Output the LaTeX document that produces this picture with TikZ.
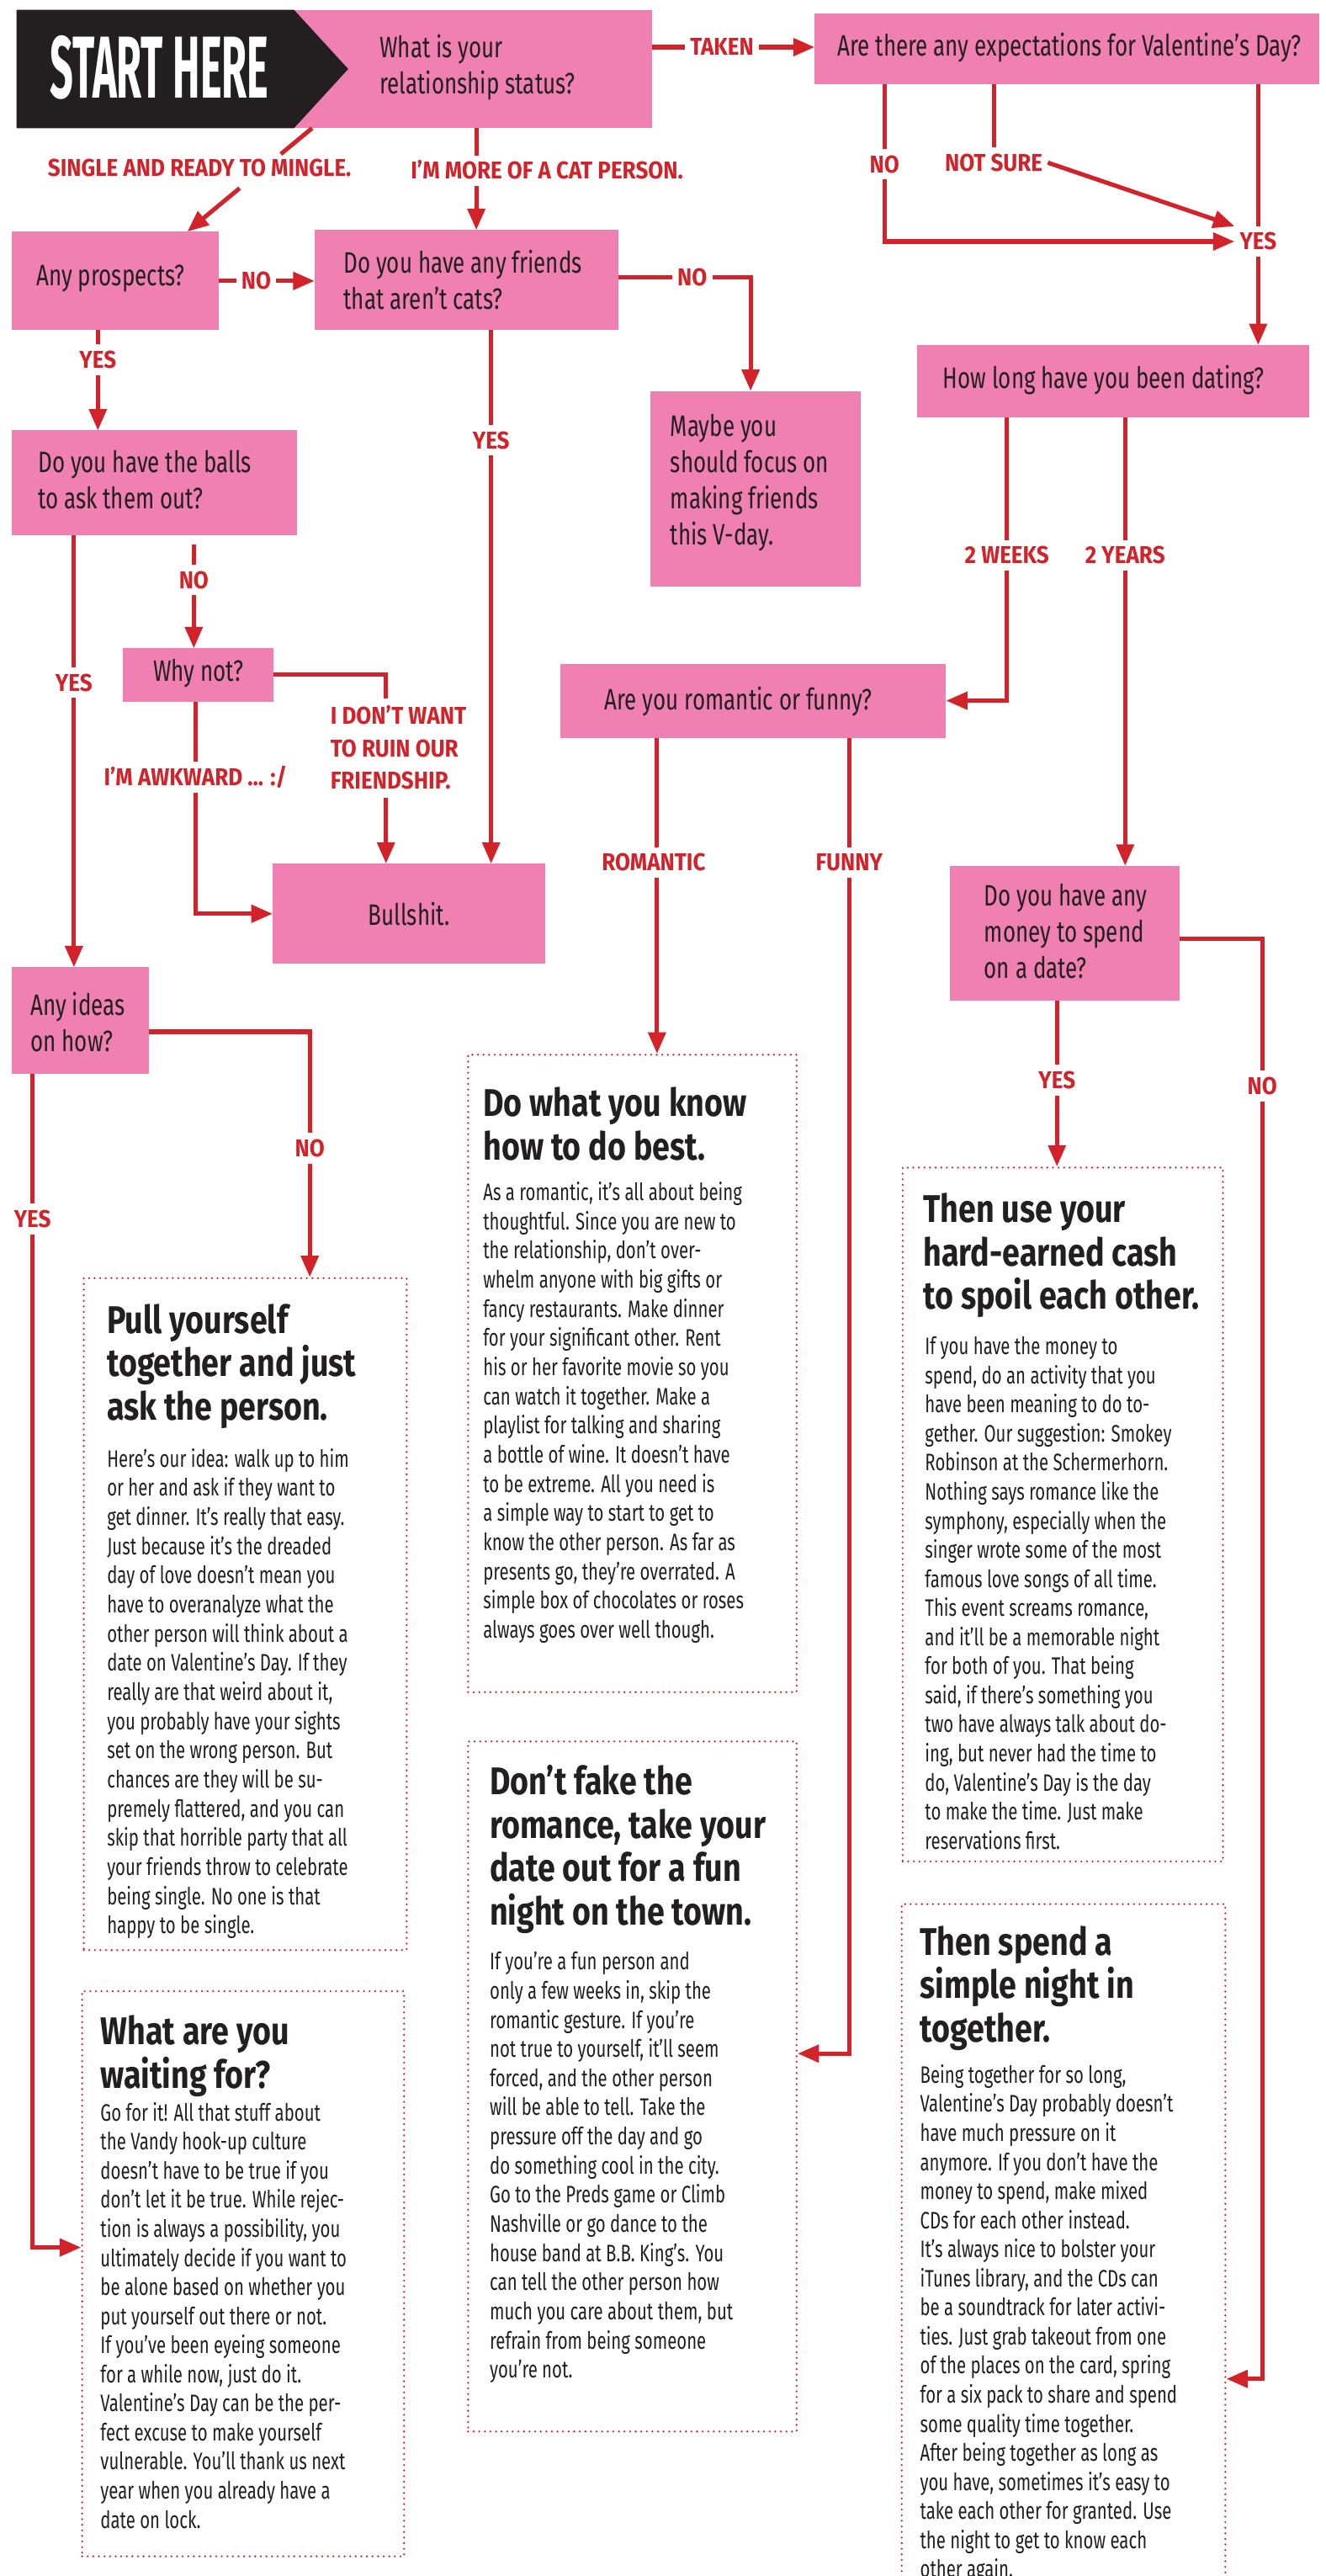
\documentclass[tikz,border=0pt]{standalone}
\usepackage{graphicx}
\usepackage{fontspec}
\setmainfont{Fira Sans}
\newfontfamily\qfont[FakeStretch=0.74]{Fira Sans}
\newfontfamily\lfont[FakeStretch=0.9]{Fira Sans}
\newfontfamily\hfont[FakeStretch=0.82]{Fira Sans}
\newfontfamily\bfont[FakeStretch=0.72]{Fira Sans}
\usetikzlibrary{arrows.meta,calc}
\definecolor{pinkc}{HTML}{F080B1}
\definecolor{redc}{HTML}{D2232A}
\definecolor{inkc}{HTML}{231F20}
\begin{document}
\begin{tikzpicture}[x=1pt,y=-1pt,
  qbox/.style={fill=pinkc, inner sep=0pt, outer sep=0pt},
  qtext/.style={inner sep=0pt, anchor=north west, align=left, text=inkc, font=\qfont\fontsize{18}{22}\selectfont},
  lbl/.style={text=redc, inner xsep=3pt, inner ysep=4pt, text height=10.2pt, text depth=0pt, font=\lfont\bfseries\fontsize{14.8}{16}\selectfont},
  lblm/.style={text=redc, inner sep=0pt, anchor=north west, align=left, font=\lfont\bfseries\fontsize{14.8}{19.7}\selectfont},
  con/.style={draw=redc, line width=2.6pt},
  arr/.style={con, -{Triangle[length=13pt,width=10.5pt]}},
  dbox/.style={draw=redc, line width=1.3pt, dash pattern=on 0pt off 3.4pt, line cap=round, inner sep=0pt},
  htext/.style={inner sep=0pt, anchor=north west, align=left, text=inkc, font=\hfont\bfseries\fontsize{23.5}{26.4}\selectfont},
  btext/.style={inner sep=0pt, anchor=north west, align=left, text=inkc, font=\bfont\fontsize{14.5}{#1}\selectfont},
]
\useasboundingbox (0,0) rectangle (807,1568);
\fill[white] (0,0) rectangle (807,1568);

% ---------- top row ----------
\node[qbox, minimum width=218pt, minimum height=72pt] (q1) at (288,42) {};
\fill[inkc] (10,6) -- (179,6) -- (212,42) -- (179,78) -- (10,78) -- cycle;
\node[text=white, inner sep=0pt] (start) at (97,41) {\resizebox{133pt}{38pt}{\lfont\bfseries START HERE}};
\node[qtext] (q1t) at (231,21) {What is your\\relationship status?};

\node[qbox, minimum width=307pt, minimum height=43pt] (q2) at (649.5,29.5) {};
\node[qtext, anchor=center] (q2t) at (651,29) {Are there any expectations for Valentine’s Day?};

\node[lbl] (taken) at (439.5,28.7) {TAKEN};
\draw[con] (taken.west -| q1.east) -- (taken.west);
\draw[arr] (taken.east) -- (taken.east -| q2.west);

\node[lbl] (no2) at (538.5,100) {NO};
\node[lbl] (notsure) at (605,99) {NOT SURE};
\node[lbl] (yes2) at (766,147) {YES};
\node[qbox, minimum width=238.5pt, minimum height=44pt] (howlong) at (677.75,232) {};
\node[qtext] (howlongt) at (574,222) {How long have you been dating?};
\draw[con] (no2.north |- q2.south) -- (no2.north);
\draw[arr] (no2.south) |- (yes2.west);
\draw[con] (notsure.north |- q2.south) -- (notsure.north);
\draw[arr] (notsure.east) -- (yes2.north west);
\draw[con] (yes2.north |- q2.south) -- (yes2.north);
\draw[arr] (yes2.south) -- (yes2.south |- howlong.north);

% ---------- single / cat ----------
\node[lbl] (single) at (121.5,102) {SINGLE AND READY TO MINGLE.};
\node[qbox, minimum width=126pt, minimum height=60pt] (q3) at (70,171) {};
\node[qtext] (q3t) at (22,161) {Any prospects?};
\coordinate (s1) at (190,78);
\coordinate (s2) at (114,141);
\draw[con] (s1) -- ($(s1)!0.25!(s2)$);
\draw[arr] ($(s1)!0.58!(s2)$) -- (s2);

\node[lbl] (cat) at (333,104) {I’M MORE OF A CAT PERSON.};
\node[qbox, minimum width=185pt, minimum height=61pt] (q4) at (284,170.5) {};
\node[qtext] (q4t) at (209,152) {Do you have any friends\\that aren’t cats?};
\coordinate (catx) at (290,0);
\draw[con] (q1.south -| catx) -- (cat.north -| catx);
\draw[arr] (cat.south -| catx) -- (q4.north -| catx);

\node[lbl] (no1) at (156,171) {NO};
\draw[con] (q3.east |- no1.west) -- (no1.west);
\draw[arr] (no1.east) -- (no1.east -| q4.west);

\node[lbl] (no3) at (421.5,169) {NO};
\node[qbox, minimum width=128pt, minimum height=119pt] (maybe) at (460,297.5) {};
\node[qtext] (maybet) at (408,252) {Maybe you\\should focus on\\making friends\\this V-day.};
\coordinate (mx) at (457,0);
\draw[con] (q4.east |- no3.west) -- (no3.west);
\draw[arr] (no3.east) -| (maybe.north -| mx);

% ---------- left branch ----------
\node[lbl] (yes1) at (59.6,219) {YES};
\node[qbox, minimum width=174pt, minimum height=64pt] (q5) at (94,294) {};
\node[qtext] (q5t) at (23,274) {Do you have the balls\\to ask them out?};
\draw[con] (yes1.north |- q3.south) -- (yes1.north);
\draw[arr] (yes1.south) -- (yes1.south |- q5.north);

\node[lbl] (yes3) at (299,268) {YES};
\node[qbox, minimum width=166pt, minimum height=61pt] (bull) at (249,556.2) {};
\node[qtext, anchor=center] (bullt) at (249,556.5) {Bullshit.};
\draw[con] (yes3.north |- q4.south) -- (yes3.north);
\draw[arr] (yes3.south) -- (yes3.south |- bull.north);

\node[lbl] (yes4) at (45,415.6) {YES};
\node[qbox, minimum width=83.5pt, minimum height=65pt] (ideas) at (48.75,621.25) {};
\node[qtext] (ideast) at (18.4,604) {Any ideas\\on how?};
\draw[con] (yes4.north |- q5.south) -- (yes4.north);
\draw[arr] (yes4.south) -- (yes4.south |- ideas.north);

\node[lbl] (no4) at (118,353) {NO};
\node[qbox, minimum width=91.4pt, minimum height=32.4pt] (whynot) at (120.7,410.8) {};
\node[qtext, anchor=center] (whynott) at (120.7,410) {Why not?};
\coordinate (n4top) at ($(no4.north |- q5.south)+(0,5.5)$);
\draw[con] (n4top) -- (no4.north);
\draw[arr] (no4.south) -- (no4.south |- whynot.north);

\node[lblm] (dontwant) at (201,429.4) {I DON’T WANT\\TO RUIN OUR\\FRIENDSHIP.};
\coordinate (dwx) at (235,0);
\draw[con] (whynot.east) -| ($(dontwant.north -| dwx)+(0,-4)$);
\draw[arr] ($(dontwant.south -| dwx)+(0,5)$) -- (bull.north -| dwx);

\node[lbl] (awk) at (119,473) {I’M AWKWARD ... :/};
\draw[con] (awk.north |- whynot.south) -- (awk.north);
\draw[arr] (awk.south) |- (bull.west);

% ---------- dating branch ----------
\node[lbl] (wk2) at (613,338) {2 WEEKS};
\node[lbl] (yr2) at (685,338) {2 YEARS};
\node[qbox, minimum width=235pt, minimum height=45pt] (romfun) at (458.5,426.5) {};
\node[qtext] (romfunt) at (368,418) {Are you romantic or funny?};
\node[qbox, minimum width=139.5pt, minimum height=82pt] (money) at (648.25,568) {};
\node[qtext] (moneyt) at (599,538) {Do you have any\\money to spend\\on a date?};
\draw[con] (wk2.north |- howlong.south) -- (wk2.north);
\draw[arr] (wk2.south) |- (romfun.east);
\draw[con] (yr2.north |- howlong.south) -- (yr2.north);
\draw[arr] (yr2.south) -- (yr2.south |- money.north);

\node[lbl] (rom) at (398,525) {ROMANTIC};
\node[lbl] (fun) at (517,525) {FUNNY};
\node[dbox, minimum width=200pt, minimum height=388pt] (dowhat) at (385,836) {};
\node[dbox, minimum width=200pt, minimum height=420pt] (dontfake) at (385,1270) {};
\coordinate (romx) at (400,0);
\draw[con] (romfun.south -| romx) -- (rom.north -| romx);
\draw[arr] (rom.south -| romx) -- (dowhat.north -| romx);
\draw[con] (fun.north |- romfun.south) -- (fun.north);
\coordinate (funy) at (0,1250);
\draw[arr] (fun.south) |- (dontfake.east |- funy);

\node[lbl] (yes5) at (643.5,657.5) {YES};
\node[lbl] (no5) at (768.5,661) {NO};
\node[dbox, minimum width=195pt, minimum height=422.3pt] (thenuse) at (647.05,921.85) {};
\node[dbox, minimum width=197pt, minimum height=441pt] (thenspend) at (647.5,1379.5) {};
\draw[con] (yes5.north |- money.south) -- (yes5.north);
\draw[arr] (yes5.south) -- (yes5.south |- thenuse.north);
\coordinate (my) at (0,571.5);
\draw[con] (money.east |- my) -| (no5.north);
\coordinate (sy) at (0,1448);
\draw[arr] (no5.south) |- (thenspend.east |- sy);

% ---------- ideas branch ----------
\node[lbl] (no6) at (188.6,699) {NO};
\node[lbl] (yes6) at (19.8,742) {YES};
\node[dbox, minimum width=196.6pt, minimum height=409pt] (pull) at (149.3,982.5) {};
\node[dbox, minimum width=196pt, minimum height=344pt] (wait) at (148,1384) {};
\coordinate (iy) at (0,628);
\draw[con] (ideas.east |- iy) -| (no6.north);
\draw[arr] (no6.south) -- (no6.south |- pull.north);
\draw[con] (yes6.north |- ideas.south) -- (yes6.north);
\coordinate (wy) at (0,1368);
\draw[arr] (yes6.south) |- (wait.west |- wy);

% ---------- answer texts ----------
\node[htext] (pullh) at (65,793.5) {Pull yourself\\together and just\\ask the person.};
\node[btext=17.75] (pullb) at (65,881.5) {Here’s our idea: walk up to him\\or her and ask if they want to\\get dinner. It’s really that easy.\\Just because it’s the dreaded\\day of love doesn’t mean you\\have to overanalyze what the\\other person will think about a\\date on Valentine’s Day. If they\\really are that weird about it,\\you probably have your sights\\set on the wrong person. But\\chances are they will be su-\\premely flattered, and you can\\skip that horrible party that all\\your friends throw to celebrate\\being single. No one is that\\happy to be single.};

\node[htext] (waith) at (61,1226.5) {What are you\\waiting for?};
\node[btext=17.7] (waitb) at (61,1279.5) {Go for it! All that stuff about\\the Vandy hook-up culture\\doesn’t have to be true if you\\don’t let it be true. While rejec-\\tion is always a possibility, you\\ultimately decide if you want to\\be alone based on whether you\\put yourself out there or not.\\If you’ve been eyeing someone\\for a while now, just do it.\\Valentine’s Day can be the per-\\fect excuse to make yourself\\vulnerable. You’ll thank us next\\year when you already have a\\date on lock.};

\node[htext] (dowhath) at (294,661.5) {Do what you know\\how to do best.};
\node[btext=17.75] (dowhatb) at (294,719.3) {As a romantic, it’s all about being\\thoughtful. Since you are new to\\the relationship, don’t over-\\whelm anyone with big gifts or\\fancy restaurants. Make dinner\\for your significant other. Rent\\his or her favorite movie so you\\can watch it together. Make a\\playlist for talking and sharing\\a bottle of wine. It doesn’t have\\to be extreme. All you need is\\a simple way to start to get to\\know the other person. As far as\\presents go, they’re overrated. A\\simple box of chocolates or roses\\always goes over well though.};

\node[htext] (dontfakeh) at (298,1074.2) {Don’t fake the\\romance, take your\\date out for a fun\\night on the town.};
\node[btext=17.75] (dontfakeb) at (298,1187.9) {If you’re a fun person and\\only a few weeks in, skip the\\romantic gesture. If you’re\\not true to yourself, it’ll seem\\forced, and the other person\\will be able to tell. Take the\\pressure off the day and go\\do something cool in the city.\\Go to the Preds game or Climb\\Nashville or go dance to the\\house band at B.B. King’s. You\\can tell the other person how\\much you care about them, but\\refrain from being someone\\you’re not.};

\node[htext] (thenuseh) at (562,726.2) {Then use your\\hard-earned cash\\to spoil each other.};
\node[btext=17.7] (thenuseb) at (563,813.5) {If you have the money to\\spend, do an activity that you\\have been meaning to do to-\\gether. Our suggestion: Smokey\\Robinson at the Schermerhorn.\\Nothing says romance like the\\symphony, especially when the\\singer wrote some of the most\\famous love songs of all time.\\This event screams romance,\\and it’ll be a memorable night\\for both of you. That being\\said, if there’s something you\\two have always talk about do-\\ing, but never had the time to\\do, Valentine’s Day is the day\\to make the time. Just make\\reservations first.};

\node[htext] (thenspendh) at (560,1172.1) {Then spend a\\simple night in\\together.};
\node[btext=17.7] (thenspendb) at (560,1256.5) {Being together for so long,\\Valentine’s Day probably doesn’t\\have much pressure on it\\anymore. If you don’t have the\\money to spend, make mixed\\CDs for each other instead.\\It’s always nice to bolster your\\iTunes library, and the CDs can\\be a soundtrack for later activi-\\ties. Just grab takeout from one\\of the places on the card, spring\\for a six pack to share and spend\\some quality time together.\\After being together as long as\\you have, sometimes it’s easy to\\take each other for granted. Use\\the night to get to know each\\other again.};
\end{tikzpicture}
\end{document}
